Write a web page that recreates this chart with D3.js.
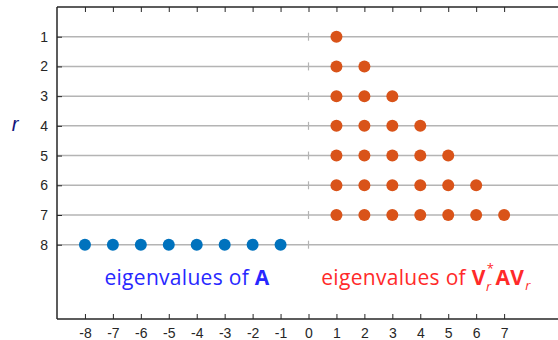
<!DOCTYPE html>
<html>
<head>
<meta charset="utf-8">
<script src="https://cdn.jsdelivr.net/npm/d3@7"></script>
<style>
  body { margin: 0; background: #fff; }
  .tick text { font-family: "Liberation Sans", Arial, sans-serif; font-size: 14px; fill: #262626; }
</style>
</head>
<body>
<script>
(function(){

    //data
    var rows = [1, 2, 3, 4, 5, 6, 7, 8];
    var xTicks = [-8, -7, -6, -5, -4, -3, -2, -1, 0, 1, 2, 3, 4, 5, 6, 7];
    var eigA = [-8, -7, -6, -5, -4, -3, -2, -1];      // shown on row r = 8
    var ritzRows = [1, 2, 3, 4, 5, 6, 7];              // row r holds values 1..r
    var ritzValues = [[1], [1, 2], [1, 2, 3], [1, 2, 3, 4], [1, 2, 3, 4, 5],
                      [1, 2, 3, 4, 5, 6], [1, 2, 3, 4, 5, 6, 7]];

    var width = 558, height = 340;
    var left = 57, top = 7, bottom = 319, right = 560;

    var svg = d3.select("body").append("svg")
        .attr("width", width)
        .attr("height", height);

    var x = d3.scaleLinear().domain([-9, 9]).range([left, right]);
    var y = d3.scaleLinear().domain([0, 10.5]).range([top, bottom]);

    //horizontal grid lines for each r
    svg.selectAll(".grid")
        .data(rows)
        .enter()
        .append("line")
        .attr("class", "grid")
        .attr("x1", left).attr("x2", width)
        .attr("y1", function(d){ return y(d); })
        .attr("y2", function(d){ return y(d); })
        .style("stroke", "#b4b4b4")
        .style("stroke-width", 1.5);

    //small gray marks at zero
    svg.selectAll(".zero")
        .data(rows)
        .enter()
        .append("line")
        .attr("class", "zero")
        .attr("x1", x(0)).attr("x2", x(0))
        .attr("y1", function(d){ return y(d) - 4; })
        .attr("y2", function(d){ return y(d) + 4; })
        .style("stroke", "#b4b4b4")
        .style("stroke-width", 1.2);

    //axes (plain hyphen minus like the original)
    var fmt = function(d){ return String(d); };
    var xAxis = svg.append("g")
        .attr("transform", "translate(0," + bottom + ")")
        .call(d3.axisBottom(x).tickValues(xTicks).tickFormat(fmt)
            .tickSizeInner(-5).tickSizeOuter(0).tickPadding(9));
    var xTop = svg.append("g")
        .attr("transform", "translate(0," + top + ")")
        .call(d3.axisTop(x).tickValues(xTicks).tickSizeInner(-5).tickSizeOuter(0).tickFormat(""));
    var yAxis = svg.append("g")
        .attr("transform", "translate(" + left + ",0)")
        .call(d3.axisLeft(y).tickValues(rows).tickFormat(fmt)
            .tickSizeInner(-5).tickSizeOuter(0).tickPadding(9));

    [xAxis, xTop, yAxis].forEach(function(g){
        g.select(".domain").style("stroke", "#262626").style("stroke-width", 1.5);
        g.selectAll(".tick line").style("stroke", "#262626");
    });
    xAxis.select(".domain").attr("d", "M" + left + ",0H" + width);
    xTop.select(".domain").attr("d", "M" + left + ",0H" + width);
    yAxis.select(".domain").attr("d", "M0," + top + "V" + bottom);

    //eigenvalues of A
    svg.selectAll(".eigA")
        .data(eigA)
        .enter()
        .append("circle")
        .attr("class", "eigA")
        .attr("cx", function(d){ return x(d); })
        .attr("cy", y(8))
        .attr("r", 6)
        .style("fill", "#0072BD");

    //Ritz values
    var pts = [];
    ritzRows.forEach(function(r, i){
        ritzValues[i].forEach(function(v){ pts.push({r: r, v: v}); });
    });
    svg.selectAll(".ritz")
        .data(pts)
        .enter()
        .append("circle")
        .attr("class", "ritz")
        .attr("cx", function(d){ return x(d.v); })
        .attr("cy", function(d){ return y(d.r); })
        .attr("r", 6)
        .style("fill", "#D95319");

    //axis label
    svg.append("text")
        .attr("x", 15).attr("y", 131)
        .attr("text-anchor", "middle")
        .style("font-family", "'Liberation Sans', Arial, sans-serif")
        .style("font-style", "italic")
        .style("font-size", "20px")
        .style("fill", "#13137a")
        .text("r");

    //annotations
    var font = "'Open Sans', 'DejaVu Sans', sans-serif";
    var t1 = svg.append("text")
        .attr("x", 187).attr("y", 285)
        .attr("text-anchor", "middle")
        .style("font-family", font)
        .style("font-size", "21px")
        .style("letter-spacing", "0.3px")
        .style("fill", "#2828ff");
    t1.append("tspan").text("eigenvalues of ");
    t1.append("tspan").style("font-weight", "bold").text("A");

    var t2 = svg.append("text")
        .attr("x", 426).attr("y", 285)
        .attr("text-anchor", "middle")
        .style("font-family", font)
        .style("font-size", "21px")
        .style("letter-spacing", "0.3px")
        .style("fill", "#ff2a2a");
    t2.append("tspan").text("eigenvalues of ");
    t2.append("tspan").style("font-weight", "bold").text("V");
    t2.append("tspan").attr("dx", 1).attr("dy", -12).style("font-size", "13px").text("*");
    t2.append("tspan").attr("dx", -8).attr("dy", 18).style("font-size", "13px").style("font-style", "italic").text("r");
    t2.append("tspan").attr("dx", 4).attr("dy", -6).style("font-weight", "bold").text("AV");
    t2.append("tspan").attr("dx", 1).attr("dy", 5).style("font-size", "13px").style("font-style", "italic").text("r");

})();
</script>
</body>
</html>
